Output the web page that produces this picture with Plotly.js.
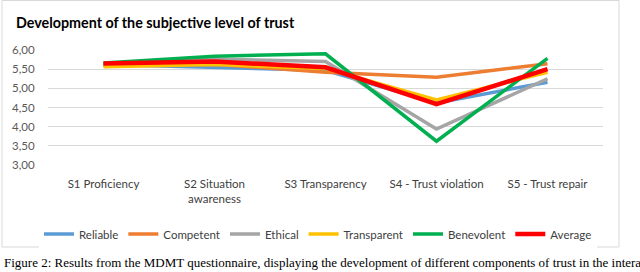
<!DOCTYPE html>
<html><head><meta charset="utf-8">
<script src="https://cdn.plot.ly/plotly-3.0.1.min.js"></script>
<style>html,body{margin:0;padding:0;background:#fff;}#chart{width:640px;height:272px;}</style>
</head><body><div id="chart"></div>
<script>
const categories = ["S1 Proficiency", "S2 Situation<br>awareness", "S3 Transparency", "S4 - Trust violation", "S5 - Trust repair"];
const reliable    = [5.62, 5.55, 5.47, 4.62, 5.16];
const competent   = [5.60, 5.63, 5.42, 5.29, 5.64];
const ethical     = [5.62, 5.76, 5.70, 3.94, 5.25];
const transparent = [5.56, 5.62, 5.52, 4.70, 5.42];
const benevolent  = [5.66, 5.84, 5.90, 3.62, 5.78];
const average     = [5.65, 5.70, 5.55, 4.59, 5.50];
const yTicks = [3, 3.5, 4, 4.5, 5, 5.5, 6];
const title = "Development of the subjective level of trust";
const caption = "Figure 2: Results from the MDMT questionnaire, displaying the development of different components of trust in the intera";

const series = [
  {name: "Reliable", y: reliable, color: "#5b9bd5", w: 3.5},
  {name: "Competent", y: competent, color: "#ed7d31", w: 3.5},
  {name: "Ethical", y: ethical, color: "#a5a5a5", w: 3.5},
  {name: "Transparent", y: transparent, color: "#ffc000", w: 3.5},
  {name: "Benevolent", y: benevolent, color: "#00b050", w: 3.5},
  {name: "Average", y: average, color: "#ff0000", w: 4.5}
];
const traces = series.map(s => ({
  type: "scatter", mode: "lines", name: s.name, x: categories, y: s.y,
  line: {color: s.color, width: s.w}
}));

const L = 48, R = 603, T = 50, B = 165;
const pw = R - L, ph = B - T;
const px = v => (v - L) / pw;
const py = v => (B - v) / ph;

const layout = {
  width: 640, height: 272,
  margin: {l: L, r: 640 - R, t: T, b: 272 - B},
  paper_bgcolor: "#fff", plot_bgcolor: "#fff",
  separators: ", ",
  font: {family: "Lato, 'Noto Sans', sans-serif", size: 11.5, color: "#595959"},
  title: {text: "<b>" + title + "</b>", xref: "container", yref: "container",
          x: 16/640, xanchor: "left", y: 1 - 23/272, yanchor: "middle",
          font: {family: "Lato, 'Noto Sans', sans-serif", size: 14.3, color: "#000"}},
  xaxis: {type: "category", range: [-0.5, 4.5], showgrid: false, zeroline: false,
          showline: false, ticks: "outside", ticklen: 8, tickcolor: "rgba(0,0,0,0)",
          tickfont: {size: 11.5, color: "#404040"}, fixedrange: true},
  yaxis: {range: [3, 6], tickvals: yTicks, tickformat: ".2f", showgrid: true,
          gridcolor: "#d9d9d9", gridwidth: 1, zeroline: false, showline: false,
          ticks: "outside", ticklen: 10, tickcolor: "rgba(0,0,0,0)",
          tickfont: {size: 11.5, color: "#595959"}},
  legend: {orientation: "h", xref: "container", yref: "container",
           x: 318/640, xanchor: "center", y: 1 - 234/272, yanchor: "middle",
           font: {size: 11.5, color: "#404040"}, itemwidth: 30, tracegroupgap: 0},
  shapes: [{type: "rect", xref: "paper", yref: "paper",
            x0: px(2), x1: px(619), y0: py(247), y1: py(0.5),
            line: {color: "#d9d9d9", width: 1}, fillcolor: "rgba(0,0,0,0)", layer: "below"}],
  annotations: [{text: caption, xref: "paper", yref: "paper", x: px(2), y: py(262),
                 xanchor: "left", yanchor: "middle", showarrow: false,
                 font: {family: "'Liberation Serif', 'Times New Roman', serif", size: 13, color: "#000"}}]
};
Plotly.newPlot("chart", traces, layout, {displayModeBar: false, staticPlot: true});
</script></body></html>
